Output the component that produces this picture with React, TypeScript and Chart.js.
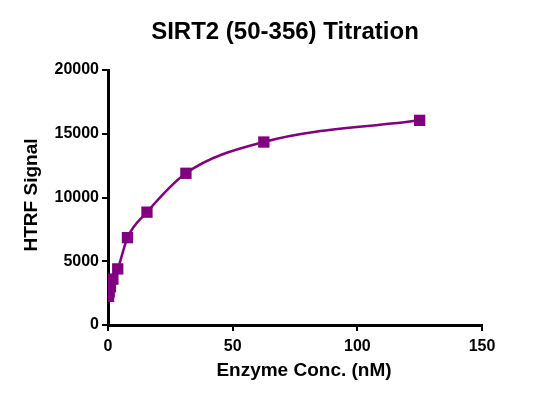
import { useEffect, useRef } from "react";
import { Chart, registerables } from "chart.js";

Chart.register(...registerables);

const concentrations = [125, 62.5, 31.25, 15.625, 7.8125, 3.906, 1.953, 0.977, 0.488, 0.244];
const signals = [16050, 14350, 11900, 8850, 6850, 4400, 3600, 3000, 2600, 2250];
const xTicks = [0, 50, 100, 150];
const yTicks = [0, 5000, 10000, 15000, 20000];

const chartTitle = "SIRT2 (50-356) Titration";
const xTitle = "Enzyme Conc. (nM)";
const yTitle = "HTRF Signal";

const FONT = '"Liberation Sans", Arial, sans-serif';
const PURPLE = "#800080";

const titlesPlugin = {
    id: "titles",
    afterDraw(chart: any) {
        const { ctx, chartArea } = chart;
        ctx.save();
        ctx.fillStyle = "#000";
        ctx.textAlign = "center";
        ctx.textBaseline = "middle";
        ctx.font = `bold 24px ${FONT}`;
        ctx.fillText(chartTitle, chartArea.left + 177, 32);
        ctx.font = `bold 19px ${FONT}`;
        ctx.fillText(xTitle, chartArea.left + 196, chartArea.bottom + 46);
        ctx.translate(32, chartArea.top + 125);
        ctx.rotate(-Math.PI / 2);
        ctx.fillText(yTitle, 0, 0);
        ctx.restore();
    },
};

export default function App() {
    const chartRef = useRef<HTMLCanvasElement | null>(null);

    useEffect(() => {
        if (!chartRef.current) return;
        const ctx = chartRef.current.getContext("2d");
        if (!ctx) return;

        Chart.defaults.font.family = FONT;
        Chart.defaults.color = "#000";

        const axisGrid = {
            drawOnChartArea: false,
            drawTicks: true,
            tickLength: 6,
            lineWidth: 2,
            color: "#000",
        };
        const tickFont = { size: 16, weight: "bold" as const };
        const plain = (value: any) => String(value);

        const myChart = new Chart(ctx, {
            type: "scatter",
            data: {
                datasets: [{
                    data: concentrations.map((x, i) => ({ x, y: signals[i] })),
                    showLine: true,
                    cubicInterpolationMode: "monotone",
                    borderColor: PURPLE,
                    borderWidth: 2.5,
                    backgroundColor: PURPLE,
                    pointStyle: "rect",
                    pointRadius: 8,
                    pointBorderWidth: 0,
                }],
            },
            options: {
                animation: false,
                responsive: true,
                maintainAspectRatio: false,
                layout: { padding: { top: 70, right: 59, left: 0, bottom: 0 } },
                plugins: {
                    legend: { display: false },
                    tooltip: { enabled: false },
                },
                scales: {
                    x: {
                        type: "linear",
                        min: 0,
                        max: 150,
                        afterBuildTicks: (scale: any) => {
                            scale.ticks = xTicks.map((value) => ({ value }));
                        },
                        afterFit: (scale: any) => {
                            scale.height = 78;
                        },
                        grid: axisGrid,
                        border: { color: "#000", width: 3 },
                        ticks: { font: tickFont, padding: 6, callback: plain },
                    },
                    y: {
                        type: "linear",
                        min: 0,
                        max: 20000,
                        afterBuildTicks: (scale: any) => {
                            scale.ticks = yTicks.map((value) => ({ value }));
                        },
                        afterFit: (scale: any) => {
                            scale.width = 108;
                        },
                        grid: axisGrid,
                        border: { color: "#000", width: 3 },
                        ticks: { font: tickFont, padding: 3, callback: plain },
                    },
                },
            },
            plugins: [titlesPlugin],
        });

        return () => {
            myChart.destroy();
        };
    }, []);

    return (
        <div style={{ position: "absolute", left: 0, top: 0, width: 541, height: 403, background: "#fff" }}>
            <canvas ref={chartRef}></canvas>
        </div>
    );
}
